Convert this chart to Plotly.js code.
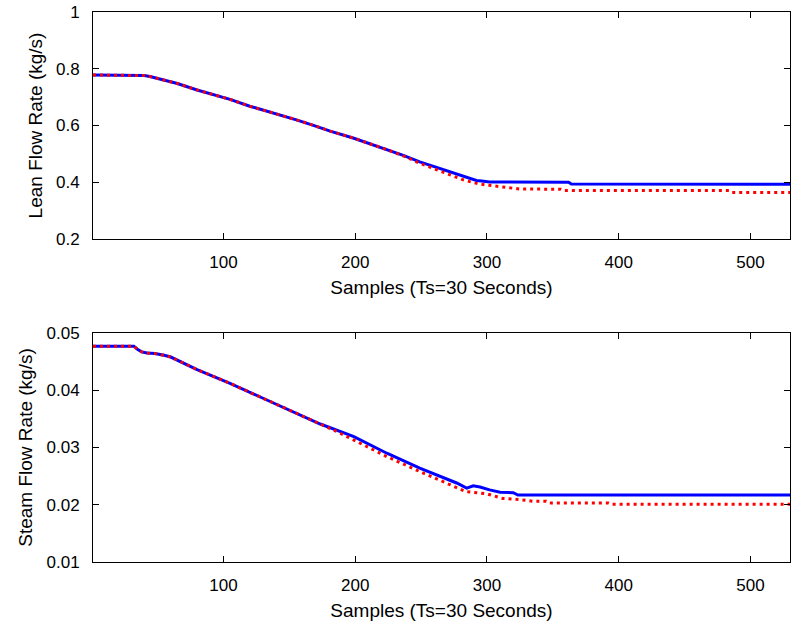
<!DOCTYPE html>
<html>
<head>
<meta charset="utf-8">
<script src="https://cdn.plot.ly/plotly-3.0.1.min.js"></script>
<style>html,body{margin:0;padding:0;background:#fff;}#chart{width:791px;height:624px;}</style>
</head>
<body>
<div id="chart"></div>
<script>
// Lean flow rate (top panel)
var leanBlueX = [1, 37, 40, 45, 50, 55, 65, 80, 95, 105, 120, 130, 145, 156, 170, 181, 199, 212, 224, 237, 249, 262, 275, 281, 287, 292, 296, 302, 362, 364, 530];
var leanBlueY = [0.778, 0.778, 0.776, 0.772, 0.766, 0.760, 0.748, 0.725, 0.704, 0.692, 0.668, 0.655, 0.633, 0.619, 0.598, 0.580, 0.555, 0.535, 0.516, 0.494, 0.472, 0.452, 0.432, 0.423, 0.414, 0.406, 0.404, 0.401, 0.400, 0.394, 0.393];
var leanRedX = [1, 37, 40, 45, 50, 55, 65, 80, 95, 105, 120, 130, 145, 156, 170, 181, 199, 212, 224, 237, 249, 262, 275, 281, 287, 293, 300, 310, 318, 325, 356, 358, 484, 486, 530];
var leanRedY = [0.778, 0.778, 0.776, 0.772, 0.766, 0.760, 0.748, 0.725, 0.704, 0.692, 0.668, 0.655, 0.633, 0.619, 0.598, 0.580, 0.555, 0.535, 0.515, 0.492, 0.467, 0.444, 0.420, 0.410, 0.402, 0.395, 0.390, 0.384, 0.378, 0.376, 0.3755, 0.371, 0.371, 0.364, 0.364];

// Steam flow rate (bottom panel)
var steamBlueX = [1, 32, 35, 38, 42, 48, 55, 60, 80, 105, 130, 158, 173.5, 199, 224, 249, 277, 284.6, 289.6, 294.7, 302, 310, 320, 323.5, 530];
var steamBlueY = [0.0477, 0.0477, 0.0471, 0.0467, 0.0465, 0.0464, 0.0461, 0.0458, 0.0436, 0.0412, 0.0386, 0.0357, 0.0341, 0.0319, 0.0290, 0.0264, 0.0238, 0.0229, 0.0233, 0.0231, 0.0226, 0.0222, 0.0221, 0.0217, 0.0217];
var steamRedX = [1, 32, 35, 38, 42, 48, 55, 60, 80, 105, 130, 158, 173.5, 185, 199, 224, 249, 274, 284, 300, 312, 325, 335, 345, 347, 392, 394, 530];
var steamRedY = [0.0477, 0.0477, 0.0471, 0.0467, 0.0465, 0.0464, 0.0461, 0.0458, 0.0436, 0.0412, 0.0386, 0.0357, 0.0341, 0.0329, 0.0313, 0.0284, 0.0258, 0.0233, 0.0223, 0.0219, 0.0211, 0.0209, 0.0206, 0.0206, 0.0203, 0.0203, 0.0201, 0.0201];

var xTicks = [100, 200, 300, 400, 500];
var leanTicks = [0.2, 0.4, 0.6, 0.8, 1];
var leanTickText = ['0.2', '0.4', '0.6', '0.8', '1'];
var steamTicks = [0.01, 0.02, 0.03, 0.04, 0.05];
var steamTickText = ['0.01', '0.02', '0.03', '0.04', '0.05'];

var FONT = 'Liberation Sans, Arial, sans-serif';
var blue = 'rgb(0,0,255)', red = 'rgb(255,0,0)';

var traces = [
  {x: leanBlueX, y: leanBlueY, xaxis: 'x', yaxis: 'y', mode: 'lines', line: {color: blue, width: 3}, hoverinfo: 'skip'},
  {x: leanRedX, y: leanRedY, xaxis: 'x', yaxis: 'y', mode: 'lines', line: {color: red, width: 3, dash: '3px,4px'}, hoverinfo: 'skip'},
  {x: steamBlueX, y: steamBlueY, xaxis: 'x2', yaxis: 'y2', mode: 'lines', line: {color: blue, width: 3}, hoverinfo: 'skip'},
  {x: steamRedX, y: steamRedY, xaxis: 'x2', yaxis: 'y2', mode: 'lines', line: {color: red, width: 3, dash: '3px,4px'}, hoverinfo: 'skip'}
];

function xax(anchor, title) {
  return {
    anchor: anchor, domain: [0, 1], range: [1, 530], tickvals: xTicks,
    ticks: 'inside', ticklen: 6, tickcolor: '#000', tickwidth: 1,
    showline: true, mirror: 'ticks', linecolor: '#000', linewidth: 1,
    showgrid: false, zeroline: false, ticklabelstandoff: 8,
    tickfont: {family: FONT, size: 17, color: '#000'},
    title: {text: title, font: {family: FONT, size: 19, color: '#000'}, standoff: 9}
  };
}
function yax(anchor, domain, range, tv, tt, title) {
  return {
    anchor: anchor, domain: domain, range: range, tickvals: tv, ticktext: tt,
    ticks: 'inside', ticklen: 6, tickcolor: '#000', tickwidth: 1,
    showline: true, mirror: 'ticks', linecolor: '#000', linewidth: 1,
    showgrid: false, zeroline: false, ticklabelstandoff: 9,
    tickfont: {family: FONT, size: 17, color: '#000'},
    title: {text: title, font: {family: FONT, size: 19, color: '#000'}, standoff: 8}
  };
}

var layout = {
  width: 791, height: 624,
  margin: {l: 93, r: 1, t: 12, b: 62},
  paper_bgcolor: '#fff', plot_bgcolor: '#fff',
  showlegend: false,
  xaxis: xax('y', 'Samples (Ts=30 Seconds)'),
  yaxis: yax('x', [0.5873, 1], [0.2, 1], leanTicks, leanTickText, 'Lean Flow Rate (kg/s)'),
  xaxis2: xax('y2', 'Samples (Ts=30 Seconds)'),
  yaxis2: yax('x2', [0, 0.4164], [0.01, 0.05], steamTicks, steamTickText, 'Steam Flow Rate (kg/s)')
};

Plotly.newPlot('chart', traces, layout, {staticPlot: true, displayModeBar: false});
</script>
</body>
</html>
